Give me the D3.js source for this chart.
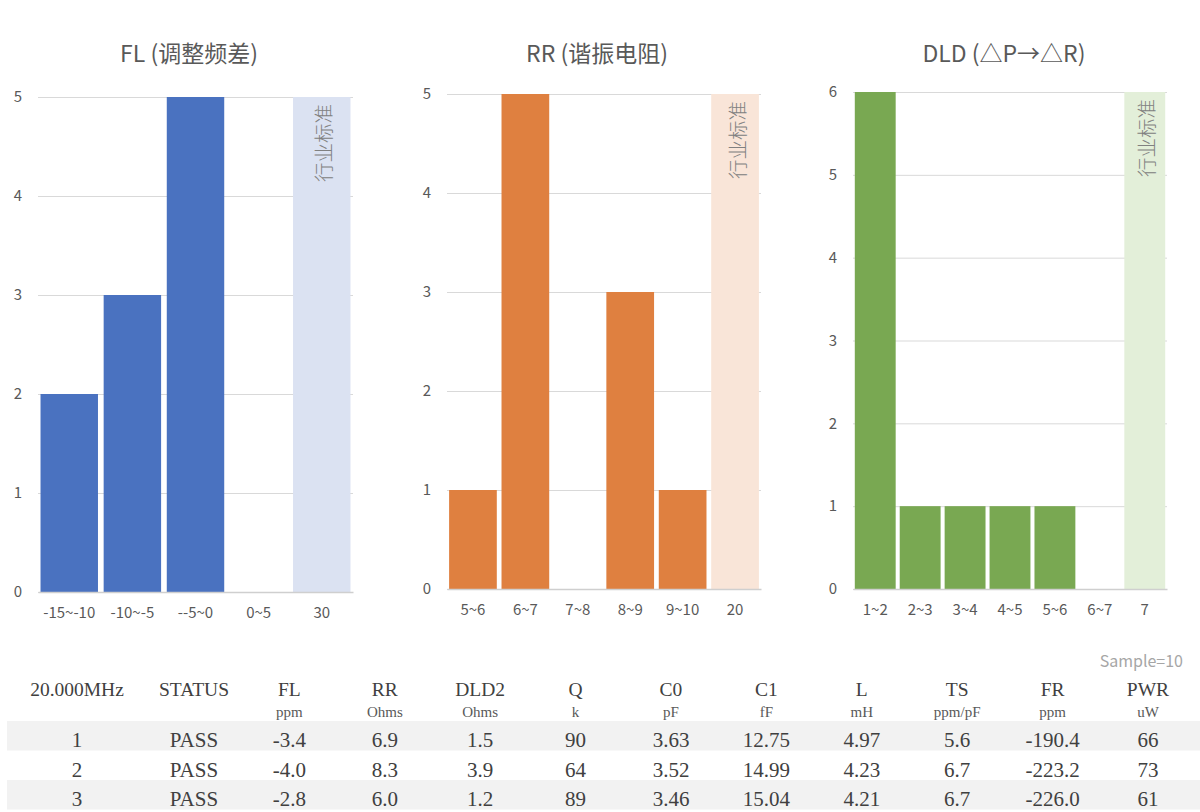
<!DOCTYPE html>
<html>
<head>
<meta charset="utf-8">
<script src="https://cdn.jsdelivr.net/npm/d3@7"></script>
<style>
  body { margin: 0; background: #fff; }
  svg { display: block; }
</style>
</head>
<body>
<div id="chart"></div>
<script>
// chart data
const flCats = ["-15~-10", "-10~-5", "--5~0", "0~5"];
const flValues = [2, 3, 5, 0];
const flStdCat = "30";
const flStdValue = 5;

const rrCats = ["5~6", "6~7", "7~8", "8~9", "9~10"];
const rrValues = [1, 5, 0, 3, 1];
const rrStdCat = "20";
const rrStdValue = 5;

const dldCats = ["1~2", "2~3", "3~4", "4~5", "5~6", "6~7"];
const dldValues = [6, 1, 1, 1, 1, 0];
const dldStdCat = "7";
const dldStdValue = 6;

const stdLabel = "行业标准";

// table data
const tableHeaders = ["20.000MHz", "STATUS", "FL", "RR", "DLD2", "Q", "C0", "C1", "L", "TS", "FR", "PWR"];
const tableUnits = ["", "", "ppm", "Ohms", "Ohms", "k", "pF", "fF", "mH", "ppm/pF", "ppm", "uW"];
const tableRows = [
  ["1", "PASS", "-3.4", "6.9", "1.5", "90", "3.63", "12.75", "4.97", "5.6", "-190.4", "66"],
  ["2", "PASS", "-4.0", "8.3", "3.9", "64", "3.52", "14.99", "4.23", "6.7", "-223.2", "73"],
  ["3", "PASS", "-2.8", "6.0", "1.2", "89", "3.46", "15.04", "4.21", "6.7", "-226.0", "61"]
];
const sampleText = "Sample=10";

const width = 1200, height = 812;
const sans = "'Noto Sans CJK SC', 'Noto Sans', sans-serif";
const serif = "'Liberation Serif', 'DejaVu Serif', serif";

const svg = d3.select("#chart").append("svg")
  .attr("width", width)
  .attr("height", height);

const charts = [
  { title: "FL (调整频差)", cats: flCats, values: flValues, stdCat: flStdCat, stdValue: flStdValue,
    max: 5, left: 38, right: 353, top: 97, bottom: 592, titleX: 189,
    color: "#4a72c0", light: "#dbe2f2" },
  { title: "RR (谐振电阻)", cats: rrCats, values: rrValues, stdCat: rrStdCat, stdValue: rrStdValue,
    max: 5, left: 447, right: 761, top: 94, bottom: 589, titleX: 597,
    color: "#df8040", light: "#f9e5d8" },
  { title: "DLD (△P→△R)", cats: dldCats, values: dldValues, stdCat: dldStdCat, stdValue: dldStdValue,
    max: 6, left: 853, right: 1167, top: 92, bottom: 589, titleX: 1004,
    color: "#79a852", light: "#e3efd9" }
];

charts.forEach(c => {
  const g = svg.append("g");
  const allCats = c.cats.concat([c.stdCat]);

  const x = d3.scaleBand()
    .domain(allCats)
    .range([c.left, c.right])
    .paddingInner(0.09)
    .paddingOuter(0.04);

  const y = d3.scaleLinear()
    .domain([0, c.max])
    .range([c.bottom, c.top]);

  // gridlines + y labels
  const yAxis = g.append("g")
    .attr("transform", `translate(${c.left},0)`)
    .call(d3.axisLeft(y).ticks(c.max).tickSize(-(c.right - c.left)).tickPadding(16));
  yAxis.select(".domain").remove();
  yAxis.selectAll("line").attr("stroke", "#d9d9d9");
  yAxis.selectAll("text")
    .attr("fill", "#595959")
    .style("font-family", sans)
    .style("font-size", "15px");

  // standard band
  g.append("rect")
    .attr("x", x(c.stdCat))
    .attr("y", y(c.stdValue))
    .attr("width", x.bandwidth())
    .attr("height", y(0) - y(c.stdValue))
    .attr("fill", c.light);

  g.append("text")
    .attr("transform", `translate(${x(c.stdCat) + x.bandwidth() / 2 + 1},${y(c.stdValue) + 7}) rotate(-90)`)
    .attr("text-anchor", "end")
    .attr("dominant-baseline", "central")
    .attr("fill", "#808080")
    .style("font-family", sans)
    .style("font-size", "19.5px")
    .style("font-weight", 300)
    .text(stdLabel);

  // bars
  g.selectAll(".bar")
    .data(c.cats.map((d, i) => ({ cat: d, v: c.values[i] })))
    .enter().append("rect")
    .attr("class", "bar")
    .attr("x", d => x(d.cat))
    .attr("y", d => y(d.v))
    .attr("width", x.bandwidth())
    .attr("height", d => y(0) - y(d.v))
    .attr("fill", c.color);

  // x axis
  const xAxis = g.append("g")
    .attr("transform", `translate(0,${c.bottom})`)
    .call(d3.axisBottom(x).tickSize(0).tickPadding(15));
  xAxis.select(".domain")
    .attr("stroke", "#cfcfcf")
    .attr("stroke-width", 1.5);
  xAxis.selectAll("text")
    .attr("fill", "#595959")
    .style("font-family", sans)
    .style("font-size", "15px");

  // title
  g.append("text")
    .attr("x", c.titleX)
    .attr("y", 62)
    .attr("text-anchor", "middle")
    .attr("fill", "#595959")
    .style("font-family", sans)
    .style("font-size", "23px")
    .text(c.title);
});

// table
const colX = d3.scaleLinear().domain([1, tableHeaders.length - 1]).range([194, 1148]);
const cx = i => i === 0 ? 77 : colX(i);
const rowTop = 721, rowH = 29.5;

svg.append("text")
  .attr("x", 1183)
  .attr("y", 667)
  .attr("text-anchor", "end")
  .attr("fill", "#a6a6a6")
  .style("font-family", sans)
  .style("font-size", "16px")
  .text(sampleText);

svg.selectAll(".band")
  .data(tableRows.filter((r, i) => i % 2 === 0))
  .enter().append("rect")
  .attr("class", "band")
  .attr("x", 7)
  .attr("y", (d, i) => rowTop + i * 2 * rowH)
  .attr("width", width - 7)
  .attr("height", rowH)
  .attr("fill", "#f2f2f2");

svg.selectAll(".hdr")
  .data(tableHeaders)
  .enter().append("text")
  .attr("class", "hdr")
  .attr("x", (d, i) => cx(i))
  .attr("y", 696)
  .attr("text-anchor", "middle")
  .attr("fill", "#404040")
  .style("font-family", serif)
  .style("font-size", "19.5px")
  .text(d => d);

svg.selectAll(".unit")
  .data(tableUnits)
  .enter().append("text")
  .attr("class", "unit")
  .attr("x", (d, i) => cx(i))
  .attr("y", 717)
  .attr("text-anchor", "middle")
  .attr("fill", "#595959")
  .style("font-family", serif)
  .style("font-size", "15px")
  .text(d => d);

tableRows.forEach((row, r) => {
  svg.append("g").selectAll("text")
    .data(row)
    .enter().append("text")
    .attr("x", (d, i) => cx(i))
    .attr("y", rowTop + r * rowH + 26)
    .attr("text-anchor", "middle")
    .attr("fill", "#404040")
    .style("font-family", serif)
    .style("font-size", "21px")
    .text(d => d);
});
</script>
</body>
</html>
